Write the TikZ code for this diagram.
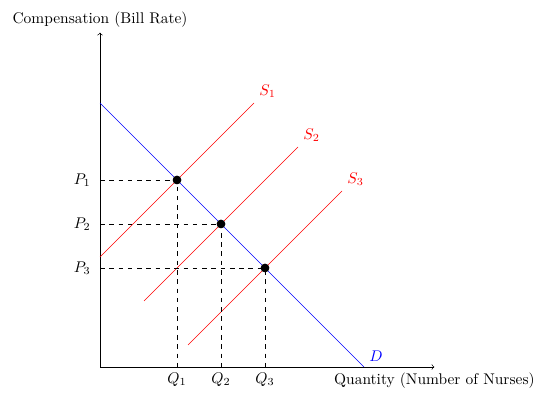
\documentclass[tikz,border=0pt]{standalone}
\begin{document}
\begin{tikzpicture}[x=1cm,y=1cm,
  axis/.style={->},
  guide/.style={dashed},
  supply/.style={red},
  demand/.style={blue},
  plab/.style={left,xshift=-2.5pt},
  eq/.style={circle,fill=black,inner sep=0pt,minimum size=5.5pt}]
\useasboundingbox (-2.273,-0.659) rectangle (9.864,8.341);
\coordinate (O) at (0,0);
\coordinate (Xend) at (7.6,0);
\coordinate (Yend) at (0,7.6);
\draw[axis] (O) -- (Xend) node[below] (xl) {Quantity (Number of Nurses)};
\draw[axis] (O) -- (Yend) node[above] (yl) {Compensation (Bill Rate)};
% demand
\coordinate (D0) at (0,6);
\coordinate (D1) at (6,0);
\draw[demand] (D0) -- (D1) node[above right,text=blue] (dl) {$D$};
% supplies
\coordinate (S1a) at (0,2.5);
\coordinate (S1b) at (3.5,6);
\coordinate (S2a) at (1,1.5);
\coordinate (S2b) at (4.5,5);
\coordinate (S3a) at (2,0.5);
\coordinate (S3b) at (5.5,4);
\draw[supply] (S1a) -- (S1b) node[above right,text=red] (s1) {$S_1$};
\draw[supply] (S2a) -- (S2b) node[above right,text=red] (s2) {$S_2$};
\draw[supply] (S3a) -- (S3b) node[above right,text=red] (s3) {$S_3$};
% equilibria
\node[eq] (E1) at (1.75,4.25) {};
\node[eq] (E2) at (2.75,3.25) {};
\node[eq] (E3) at (3.75,2.25) {};
\coordinate (P1) at (0,4.25);
\coordinate (P2) at (0,3.25);
\coordinate (P3) at (0,2.25);
\coordinate (Q1) at (1.75,0);
\coordinate (Q2) at (2.75,0);
\coordinate (Q3) at (3.75,0);
\draw[guide] (P1) -- (E1.center) -- (Q1);
\draw[guide] (P2) -- (E2.center) -- (Q2);
\draw[guide] (P3) -- (E3.center) -- (Q3);
\node[eq] at (E1) {};
\node[eq] at (E2) {};
\node[eq] at (E3) {};
\node[plab] (p1) at (P1) {$P_1$};
\node[plab] (p2) at (P2) {$P_2$};
\node[plab] (p3) at (P3) {$P_3$};
\node[below] (q1) at (Q1) {$Q_1$};
\node[below] (q2) at (Q2) {$Q_2$};
\node[below] (q3) at (Q3) {$Q_3$};
\end{tikzpicture}
\end{document}
